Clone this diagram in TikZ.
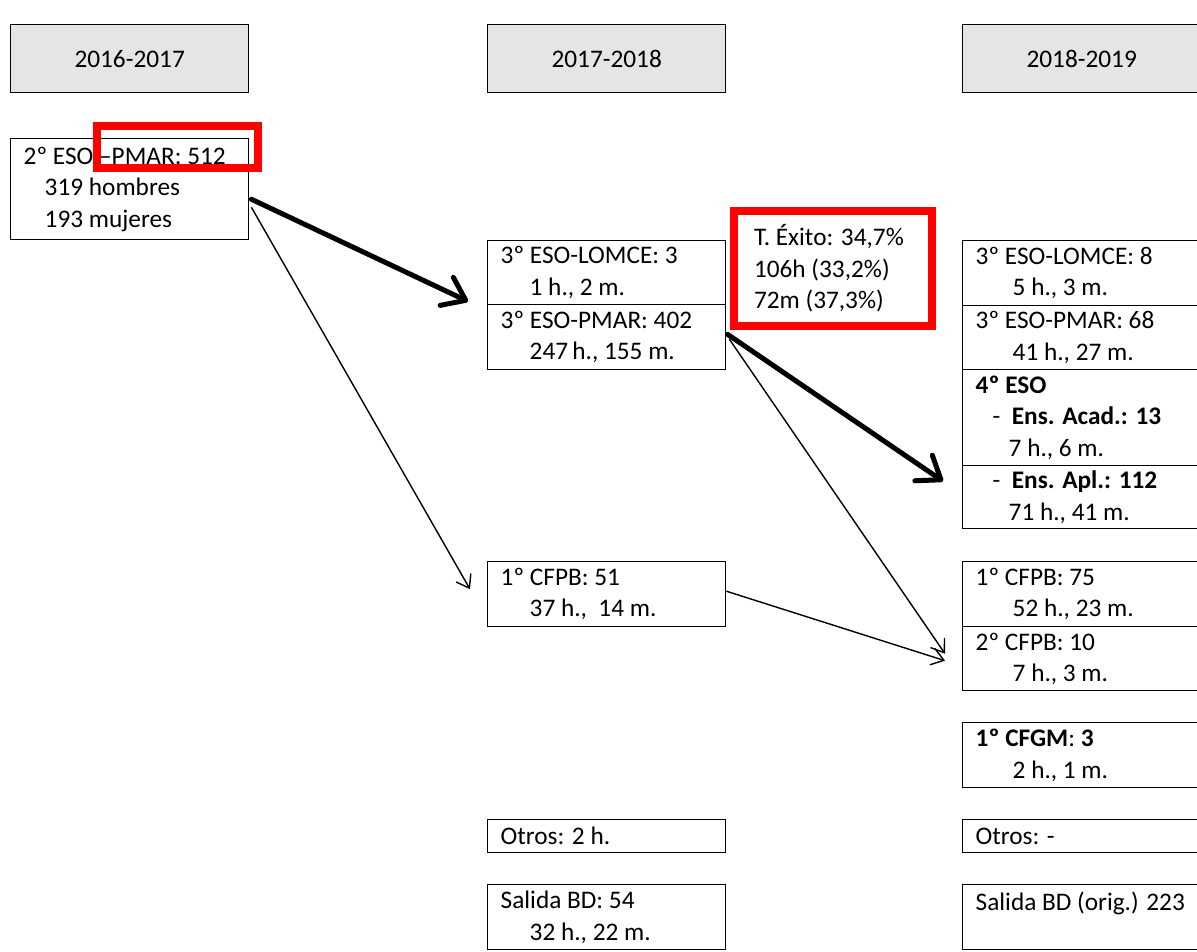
\documentclass[tikz,border=0pt]{standalone}
\usepackage{fontspec}
\setmainfont{Carlito}
\usetikzlibrary{arrows.meta,calc}
\tikzset{
  txt/.style={font=\fontsize{14.4}{17.9}\selectfont},
  cell/.style={txt, draw, line width=0.8pt, anchor=north west, align=flush left,
    text width=4.24cm, inner xsep=0.26cm, inner ysep=0pt},
  wide/.style={cell, text width=5.5cm},
  tall/.style={minimum height=#1*0.02cm},
  hdr/.style={txt, draw, line width=0.8pt, fill=gray!20, anchor=north west,
    minimum width=4.76cm, minimum height=1.36cm},
  note/.style={cell, draw=red, line width=0.16cm, text width=3.16cm, inner xsep=0.4cm},
  fat/.style={line width=0.1cm, line cap=round,
    -{Straight Barb[length=0.42cm,width=0.62cm,round]}},
  slim/.style={line width=0.8pt,
    -{Straight Barb[length=0.24cm,width=0.34cm]}}
}
\begin{document}
\begin{tikzpicture}[x=0.02cm,y=-0.02cm]
  \clip (0,0) rectangle (1197,952);
  \node[hdr] (h1) at (10,24) {2016-2017};
  \node[hdr] (h2) at (487,24) {2017-2018};
  \node[hdr] (h3) at (962,24) {2018-2019};

  \node[cell,tall=101] (a) at (10,138)
    {2º ESO –PMAR: 512\\\hspace*{0.42cm}319 hombres\\\hspace*{0.42cm}193 mujeres};

  \node[cell,tall=64] (b1) at (487,240) {3º ESO-LOMCE: 3\\\hspace*{0.58cm}1 h., 2 m.};
  \node[cell,tall=65] (b2) at (487,304) {3º ESO-PMAR: 402\\\hspace*{0.58cm}247\,h., 155 m.};
  \node[cell,tall=65] (b3) at (487,561) {1º CFPB: 51\\\hspace*{0.58cm}37 h.,~ 14 m.};
  \node[cell,tall=33] (b4) at (487,819) {Otros: 2 h.};
  \node[cell,tall=65] (b5) at (487,884) {Salida BD: 54\\\hspace*{0.58cm}32 h., 22 m.};

  \node[wide,tall=65] (c1) at (962,240) {3º ESO-LOMCE: 8\\\hspace*{0.74cm}5 h., 3 m.};
  \node[wide,tall=64] (c2) at (962,305) {3º ESO-PMAR: 68\\\hspace*{0.74cm}41 h., 27 m.};
  \node[wide,tall=96] (c3) at (962,369)
    {\textbf{4º ESO}\\\hspace*{0.34cm}-~~\textbf{Ens. Acad.: 13}\\\hspace*{0.66cm}7 h., 6 m.};
  \node[wide,tall=63] (c4) at (962,465)
    {\hspace*{0.34cm}-~~\textbf{Ens. Apl.: 112}\\\hspace*{0.66cm}71 h., 41 m.};
  \node[wide,tall=65] (c5) at (962,561) {1º CFPB: 75\\\hspace*{0.74cm}52 h., 23 m.};
  \node[wide,tall=64] (c6) at (962,626) {2º CFPB: 10\\\hspace*{0.74cm}7 h., 3 m.};
  \node[wide,tall=65] (c7) at (962,722) {\textbf{1º CFGM}: \textbf{3}\\\hspace*{0.74cm}2 h., 1 m.};
  \node[wide,tall=33] (c8) at (962,819) {Otros: -};
  \node[wide,tall=65] (c9) at (962,884) {Salida BD (orig.) 223\\\mbox{}};

  \node[note,tall=115] (rate) at (730,207) {T. Éxito: 34,7\%\\106h (33,2\%)\\72m (37,3\%)};
  \draw[red, line width=0.16cm] (97,126) rectangle (258,168);

  \draw[fat] ($(a.east)+(2,10)$) -- ($(b1.south west)+(-19,-4)$);
  \draw[slim] ($(a.east)+(2,18)$) -- ($(b3.west)+(-17,-5)$);
  \draw[fat] ($(b2.east)+(1,-3)$) -- ($(c4.west)+(-19,-16)$);
  \draw[slim] ($(b2.east)+(3,2)$) -- ($(c6.west)+(-17,-5)$);
  \draw[slim] ($(b3.east)+(0,-3)$) -- ($(c6.west)+(-17,2)$);
\end{tikzpicture}
\end{document}
